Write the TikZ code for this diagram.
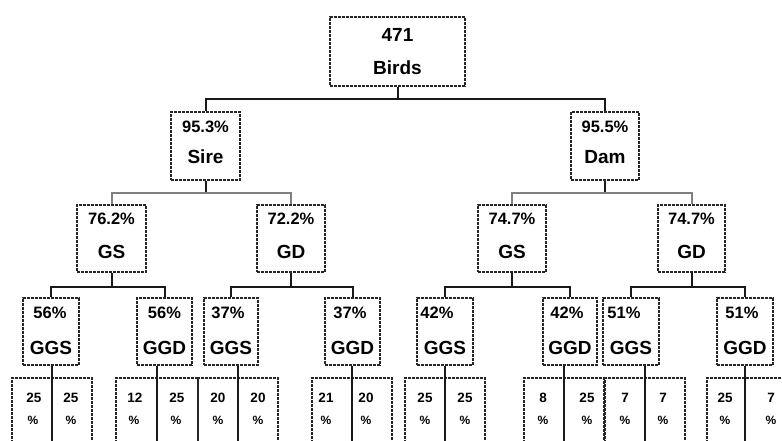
\documentclass[tikz,border=0pt]{standalone}
\usepackage{fontspec}
\setmainfont{Liberation Sans}
\begin{document}
\begin{tikzpicture}[x=1pt,y=-1pt,
  box/.style={draw=black!85, line width=1.7pt, dash pattern=on 3pt off 1pt, inner sep=0pt},
  conn/.style={draw=black!90, line width=2pt},
  bartwo/.style={draw=black!50, line width=2pt},
  pct/.style={font=\fontsize{16.5}{18}\selectfont\bfseries, inner sep=0pt},
  lab/.style={font=\fontsize{19}{20}\selectfont\bfseries, inner sep=0pt},
  num/.style={font=\fontsize{13.5}{14}\selectfont\bfseries, inner sep=0pt},
  pc/.style={font=\fontsize{12}{12}\selectfont\bfseries, inner sep=0pt}]
\useasboundingbox (0,0) rectangle (782,441);
\begin{scope}
\clip (0,0) rectangle (782,441);
% level 0
\node[box, minimum width=135pt, minimum height=69pt] (root) at (397.5,51.5) {};
\node[lab] (t471) at (397.5,34.5) {471};
\node[lab] (tbirds) at (397.5,68) {Birds};
% level 1
\node[box, minimum width=69pt, minimum height=68pt] (sire) at (205.5,146) {};
\node[pct] (psire) at (205.5,127) {95.3\%};
\node[lab] (tsire) at (205.5,157) {Sire};
\node[box, minimum width=68pt, minimum height=68pt] (dam) at (605,146) {};
\node[pct] (pdam) at (605,127) {95.5\%};
\node[lab] (tdam) at (605,157) {Dam};
% level 2
\node[box, minimum width=69pt, minimum height=67pt] (sGS) at (111.5,238.5) {};
\node[pct] (psGS) at (111.5,219) {76.2\%};
\node[lab] (tsGS) at (111.5,252) {GS};
\node[box, minimum width=68pt, minimum height=67pt] (sGD) at (291,238.5) {};
\node[pct] (psGD) at (291,219) {72.2\%};
\node[lab] (tsGD) at (291,252) {GD};
\node[box, minimum width=68pt, minimum height=67pt] (dGS) at (512,238.5) {};
\node[pct] (pdGS) at (512,219) {74.7\%};
\node[lab] (tdGS) at (512,252) {GS};
\node[box, minimum width=67pt, minimum height=67pt] (dGD) at (691.5,238.5) {};
\node[pct] (pdGD) at (691.5,219) {74.7\%};
\node[lab] (tdGD) at (691.5,252) {GD};
% level 3
\node[box, minimum width=56pt, minimum height=67pt] (A1) at (51,331.5) {};
\node[pct] (pA1) at (50,313) {56\%};
\node[lab] (tA1) at (51,348) {GGS};
\node[box, minimum width=55pt, minimum height=67pt] (A2) at (164.5,331.5) {};
\node[pct] (pA2) at (164.5,313) {56\%};
\node[lab] (tA2) at (164.5,348) {GGD};
\node[box, minimum width=54pt, minimum height=67pt] (A3) at (231,331.5) {};
\node[pct] (pA3) at (228,313) {37\%};
\node[lab] (tA3) at (231,348) {GGS};
\node[box, minimum width=55pt, minimum height=67pt] (A4) at (352.5,331.5) {};
\node[pct] (pA4) at (350,313) {37\%};
\node[lab] (tA4) at (352.5,348) {GGD};
\node[box, minimum width=56pt, minimum height=67pt] (B1) at (445,331.5) {};
\node[pct] (pB1) at (437,313) {42\%};
\node[lab] (tB1) at (445,348) {GGS};
\node[box, minimum width=54pt, minimum height=67pt] (B2) at (570,331.5) {};
\node[pct] (pB2) at (567,313) {42\%};
\node[lab] (tB2) at (570,348) {GGD};
\node[box, minimum width=56pt, minimum height=67pt] (B3) at (631,331.5) {};
\node[pct] (pB3) at (624,313) {51\%};
\node[lab] (tB3) at (631,348) {GGS};
\node[box, minimum width=56pt, minimum height=67pt] (B4) at (745,331.5) {};
\node[pct] (pB4) at (742,313) {51\%};
\node[lab] (tB4) at (745,348) {GGD};
% level 4
\node[box, minimum width=80pt, minimum height=82pt] (C1) at (52,419) {};
\node[box, minimum width=82pt, minimum height=82pt] (C2) at (157,419) {};
\node[box, minimum width=80pt, minimum height=82pt] (C3) at (238,419) {};
\node[box, minimum width=80pt, minimum height=82pt] (C4) at (352,419) {};
\node[box, minimum width=80pt, minimum height=82pt] (C5) at (445,419) {};
\node[box, minimum width=80pt, minimum height=82pt] (C6) at (564,419) {};
\node[box, minimum width=80pt, minimum height=82pt] (C7) at (645,419) {};
\node[box, minimum width=76pt, minimum height=82pt] (C8) at (745,419) {};
\node[num] (n1a) at (34,398) {25};  \node[pc] (q1a) at (33,420) {\%};
\node[num] (n1b) at (71,398) {25};  \node[pc] (q1b) at (71,420) {\%};
\node[num] (n2a) at (135,398) {12}; \node[pc] (q2a) at (134,420) {\%};
\node[num] (n2b) at (177,398) {25}; \node[pc] (q2b) at (176,420) {\%};
\node[num] (n3a) at (218,398) {20}; \node[pc] (q3a) at (218,420) {\%};
\node[num] (n3b) at (258,398) {20}; \node[pc] (q3b) at (258,420) {\%};
\node[num] (n4a) at (326,398) {21}; \node[pc] (q4a) at (326,420) {\%};
\node[num] (n4b) at (366,398) {20}; \node[pc] (q4b) at (366,420) {\%};
\node[num] (n5a) at (425,398) {25}; \node[pc] (q5a) at (425,420) {\%};
\node[num] (n5b) at (465,398) {25}; \node[pc] (q5b) at (465,420) {\%};
\node[num] (n6a) at (543,398) {8};  \node[pc] (q6a) at (543,420) {\%};
\node[num] (n6b) at (587,398) {25}; \node[pc] (q6b) at (587,420) {\%};
\node[num] (n7a) at (625,398) {7};  \node[pc] (q7a) at (625,420) {\%};
\node[num] (n7b) at (663,398) {7};  \node[pc] (q7b) at (663,420) {\%};
\node[num] (n8a) at (725,398) {25}; \node[pc] (q8a) at (725,420) {\%};
\node[num] (n8b) at (771,398) {7};  \node[pc] (q8b) at (771,420) {\%};
% connectors level 0 -> 1
\draw[conn] (root.south) -- ++(0,12) coordinate (rb);
\draw[conn] (sire.north) |- (rb) -| (dam.north);
% level 1 -> 2
\draw[conn] (sire.south) -- ++(0,12) coordinate (sb);
\draw[bartwo] (sGS.north) |- (sb) -| (sGD.north);
\draw[conn] (dam.south) -- ++(0,12) coordinate (db);
\draw[bartwo] (dGS.north) |- (db) -| (dGD.north);
% level 2 -> 3
\draw[conn] (sGS.south) -- ++(0,14) coordinate (sgsb);
\draw[conn] (A1.north) |- (sgsb) -| (A2.north);
\draw[conn] (sGD.south) -- ++(0,14) coordinate (sgdb);
\draw[conn] (A3.north) |- (sgdb) -| (A4.north);
\draw[conn] (dGS.south) -- ++(0,14) coordinate (dgsb);
\draw[conn] (B1.north) |- (dgsb) -| (B2.north);
\draw[conn] (dGD.south) -- ++(0,14) coordinate (dgdb);
\draw[conn] (B3.north) |- (dgdb) -| (B4.north);
% level 3 -> 4 (stems continue as dividers)
\draw[conn] (C1.north |- A1.south) -- (C1.south);
\draw[conn] (C2.north |- A2.south) -- (C2.south);
\draw[conn] (C3.north |- A3.south) -- (C3.south);
\draw[conn] (C4.north |- A4.south) -- (C4.south);
\draw[conn] (C5.north |- B1.south) -- (C5.south);
\draw[conn] (C6.north |- B2.south) -- (C6.south);
\draw[conn] (C7.north |- B3.south) -- (C7.south);
\draw[conn] (C8.north |- B4.south) -- (C8.south);
\end{scope}
\end{tikzpicture}
\end{document}
